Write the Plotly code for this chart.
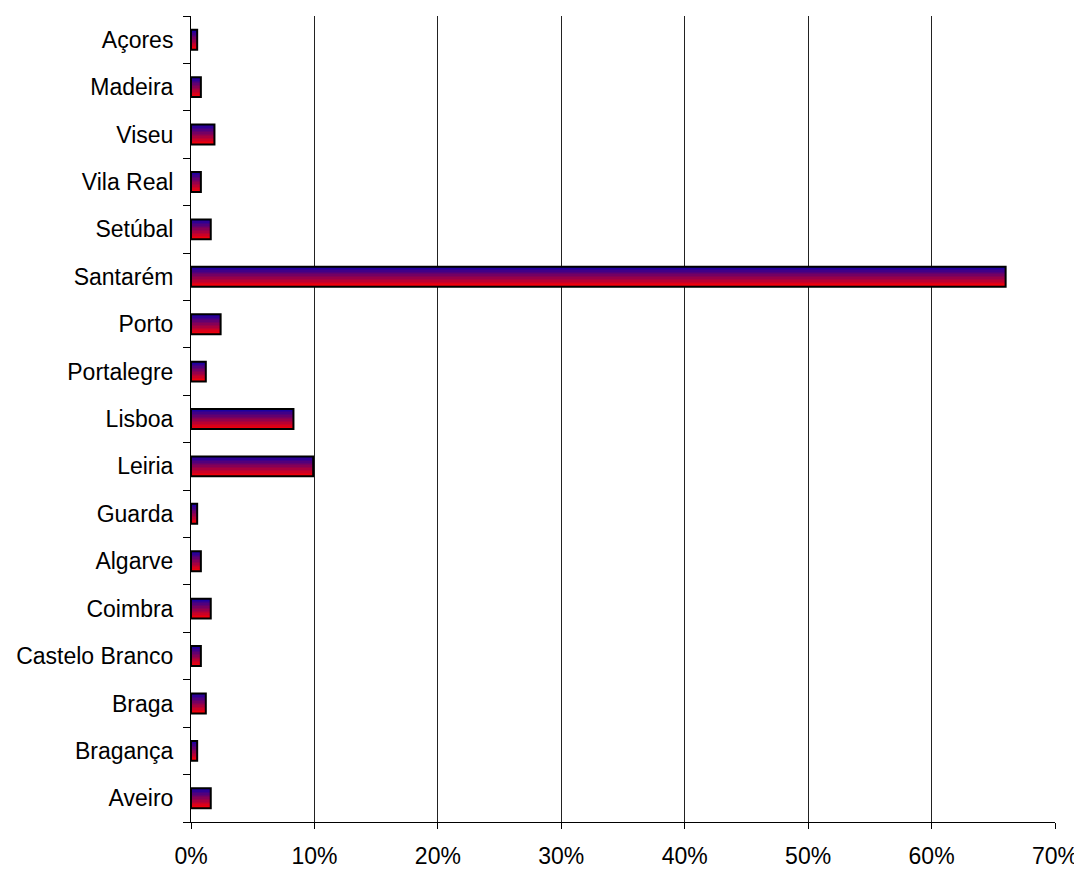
import plotly.graph_objects as go

categories = ["Aveiro", "Bragança", "Braga", "Castelo Branco", "Coimbra", "Algarve",
              "Guarda", "Leiria", "Lisboa", "Portalegre", "Porto", "Santarém",
              "Setúbal", "Vila Real", "Viseu", "Madeira", "Açores"]
values = [0.016, 0.005, 0.012, 0.008, 0.016, 0.008,
          0.005, 0.099, 0.083, 0.012, 0.024, 0.660,
          0.016, 0.008, 0.019, 0.008, 0.005]
x_ticks = [0, 0.1, 0.2, 0.3, 0.4, 0.5, 0.6, 0.7]

bar_w = 0.42
n_slices = 14
top_rgb = (30, 0, 160)
bot_rgb = (255, 0, 0)

fig = go.Figure()
for i in range(n_slices):
    t = i / (n_slices - 1)
    r = round(bot_rgb[0] + (top_rgb[0] - bot_rgb[0]) * t)
    g = round(bot_rgb[1] + (top_rgb[1] - bot_rgb[1]) * t)
    b = round(bot_rgb[2] + (top_rgb[2] - bot_rgb[2]) * t)
    fig.add_trace(go.Bar(
        x=values, y=categories, orientation="h",
        width=bar_w / n_slices * 1.05, offset=-bar_w / 2 + i * bar_w / n_slices,
        marker=dict(color=f"rgb({r},{g},{b})", line=dict(width=0)),
        showlegend=False, hoverinfo="skip"))
fig.add_trace(go.Bar(
    x=values, y=categories, orientation="h", width=bar_w, offset=-bar_w / 2,
    marker=dict(color="rgba(0,0,0,0)", line=dict(color="black", width=2)),
    showlegend=False))

fig.update_layout(
    barmode="overlay",
    width=1082, height=869,
    margin=dict(l=183, r=35, t=8, b=52),
    paper_bgcolor="white", plot_bgcolor="white",
    font=dict(family="Liberation Sans, Arial", size=23, color="black"),
    xaxis=dict(range=[0, 0.7], tickvals=x_ticks, tickformat=".0%",
               showgrid=True, gridcolor="#222", gridwidth=1,
               showline=True, linecolor="black", linewidth=1,
               ticks="outside", ticklen=6, tickcolor="black", zeroline=False,
               tickfont=dict(size=23), ticklabelstandoff=7),
    yaxis=dict(categoryorder="array", categoryarray=categories,
               showline=True, linecolor="black", linewidth=1,
               ticks="outside", tickson="boundaries", ticklen=7, tickcolor="black",
               showgrid=False, tickfont=dict(size=23), ticklabelstandoff=12),
)

fig.write_html("out.html")
